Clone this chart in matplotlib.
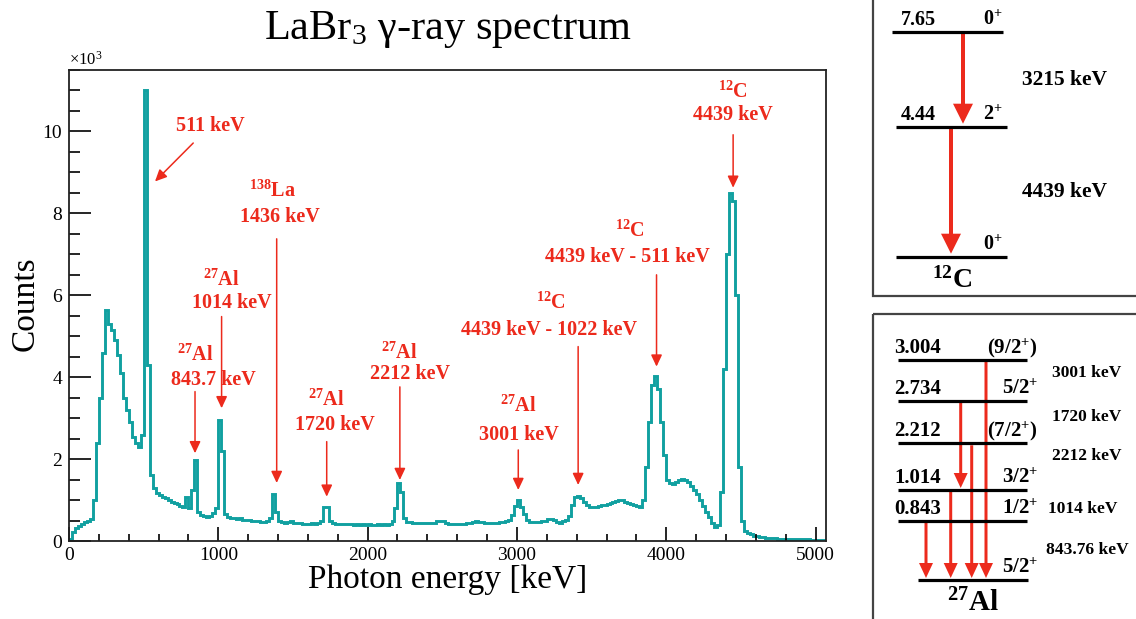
import numpy as np
import matplotlib
matplotlib.use("Agg")
import matplotlib.pyplot as plt
from matplotlib.patches import FancyArrow, Rectangle
from matplotlib.ticker import MultipleLocator, FuncFormatter

# LaBr3 spectrum, 20 keV bins starting at 0 keV
bin_width = 20
counts = [
    60, 220, 320, 370, 420, 460, 500, 540, 1000, 2400,           # 0
    3500, 4600, 5650, 5300, 5150, 4900, 4550, 4100, 3500, 3200,  # 200
    2900, 2550, 2400, 2300, 2600, 11000, 4300, 1600, 1300, 1180,  # 400
    1120, 1080, 1040, 1000, 960, 930, 900, 860, 830, 1080,       # 600
    800, 1250, 1980, 720, 640, 600, 590, 600, 680, 800,          # 800
    2960, 2200, 650, 580, 560, 560, 540, 550, 520, 510,          # 1000
    510, 500, 490, 480, 470, 470, 480, 560, 1150, 700,           # 1200
    480, 460, 450, 460, 500, 450, 430, 430, 420, 420,            # 1400
    420, 430, 420, 450, 500, 830, 830, 500, 430, 420,            # 1600
    410, 410, 420, 410, 410, 400, 410, 400, 410, 400,            # 1800
    410, 400, 400, 410, 400, 410, 400, 420, 480, 800,            # 2000
    1420, 1200, 550, 470, 460, 450, 440, 430, 430, 430,          # 2200
    440, 430, 440, 480, 500, 480, 440, 420, 420, 410,            # 2400
    410, 410, 420, 430, 440, 470, 490, 470, 460, 450,            # 2600
    450, 450, 450, 450, 460, 460, 480, 520, 640, 850,            # 2800
    1000, 820, 650, 520, 470, 460, 460, 470, 480, 500,           # 3000
    530, 540, 510, 470, 440, 480, 520, 620, 880, 1080,           # 3200
    1090, 1050, 960, 880, 840, 830, 840, 850, 870, 880,          # 3400
    910, 930, 950, 980, 1000, 990, 960, 930, 900, 880,           # 3600
    860, 820, 1000, 1800, 2900, 3800, 4030, 3700, 2900, 2100,    # 3800
    1480, 1420, 1400, 1450, 1500, 1520, 1500, 1450, 1350, 1250,  # 4000
    1150, 1000, 850, 720, 580, 450, 330, 400, 1200, 4200,        # 4200
    7000, 8500, 8300, 6000, 1800, 500, 250, 200, 160, 130,       # 4400
    110, 100, 90, 80, 75, 70, 65, 60, 58, 55,                    # 4600
    52, 50, 48, 46, 44, 42, 40, 38, 36, 34,                      # 4800
    32, 30, 28,                                                  # 5000
]

# peak labels: (isotope, line text)
peak_iso = [None, ("138", "La"), ("27", "Al"), ("27", "Al"), ("27", "Al"),
            ("27", "Al"), ("27", "Al"), ("12", "C"), ("12", "C"), ("12", "C")]
peak_text = ["511 keV", "1436 keV", "1014 keV", "843.7 keV", "1720 keV",
             "2212 keV", "3001 keV", "4439 keV - 1022 keV",
             "4439 keV - 511 keV", "4439 keV"]

# level schemes
c_levels = ["7.65", "4.44", ""]
c_spins = ["0", "2", "0"]
c_gammas = ["3215 keV", "4439 keV"]
al_levels = ["3.004", "2.734", "2.212", "1.014", "0.843", ""]
al_spins = ["(9/2", "5/2", "(7/2", "3/2", "1/2", "5/2"]
al_gammas = ["3001 keV", "1720 keV", "2212 keV", "1014 keV", "843.76 keV"]

RED = "#ec2a1c"
TEAL = "#11a0a0"
W, H = 1136, 619

plt.rcParams["font.family"] = "Liberation Serif"
plt.rcParams["mathtext.fontset"] = "custom"
plt.rcParams["mathtext.rm"] = "Liberation Serif"
plt.rcParams["mathtext.bf"] = "Liberation Serif:bold"
plt.rcParams["mathtext.it"] = "Liberation Serif:italic"


def iso(mass, sym):
    return r"$^{\mathbf{%s}}$%s" % (mass, sym)


def spin(s):
    if s.startswith("("):
        return s + r"$^{\mathbf{+}}$)"
    return s + r"$^{\mathbf{+}}$"


fig = plt.figure(figsize=(W / 100, H / 100), dpi=100)
ax = fig.add_axes([69 / W, 78 / H, 757 / W, 471 / H])

edges = np.arange(len(counts) + 1) * bin_width
ax.stairs(counts, edges, color=TEAL, linewidth=2.1)

ax.set_xlim(0, 5070)
ax.set_ylim(0, 11500)
ax.xaxis.set_major_locator(MultipleLocator(1000))
ax.xaxis.set_minor_locator(MultipleLocator(200))
ax.yaxis.set_major_locator(MultipleLocator(2000))
ax.yaxis.set_minor_locator(MultipleLocator(500))
ax.yaxis.set_major_formatter(FuncFormatter(lambda v, _: f"{v / 1000:g}"))
ax.tick_params(axis="x", which="major", direction="in", length=10, width=1.2,
               labelsize=14, pad=4)
ax.tick_params(axis="x", which="minor", direction="in", length=5, width=1.2)
ax.tick_params(axis="y", which="major", direction="in", length=16, width=1.2,
               labelsize=14, pad=5)
ax.tick_params(axis="y", which="minor", direction="in", length=8, width=1.2)
for sp in ax.spines.values():
    sp.set_linewidth(1.3)
    sp.set_color("#222222")

ax.text(0, 1.003, r"$\times$10$^{3}$", transform=ax.transAxes,
        fontsize=12, ha="left", va="bottom")

fig.text(448 / W, 1 - 30 / H, r"LaBr$_{3}$ γ-ray spectrum",
         ha="center", va="center", fontsize=30.5)
fig.text(448 / W, 1 - 580 / H, "Photon energy [keV]",
         ha="center", va="center", fontsize=24)
fig.text(25 / W, 1 - 304 / H, "Counts", rotation=90,
         ha="center", va="center", fontsize=24)

# label placement: iso line (x, y), energy line (x, y), arrow tail, arrow tip
label_pos = [
    (None, (944, 10122), (832, 9717), (576, 8779)),
    ((1366, 8534), (1413, 7923), (1391, 7378), (1391, 1417)),
    ((1018, 6377), (1091, 5807), (1022, 5480), (1022, 3242)),
    ((844, 4544), (964, 3934), (844, 3648), (844, 2143)),
    ((1726, 3445), (1781, 2834), (1726, 2426), (1726, 1082)),
    ((2210, 4593), (2283, 4080), (2216, 3763), (2216, 1490)),
    ((3011, 3281), (3013, 2590), (3009, 2223), (3009, 1246)),
    ((3228, 5807), (3214, 5155), (3410, 4747), (3410, 1368)),
    ((3757, 7574), (3740, 6946), (3935, 6499), (3935, 4258)),
    ((4446, 10946), (4443, 10408), (4448, 9919), (4448, 8625)),
]
for iso_lbl, txt, (ipos, tpos, tail, tip) in zip(peak_iso, peak_text, label_pos):
    if iso_lbl is not None:
        ax.text(*ipos, iso(*iso_lbl), color=RED, fontsize=14.5,
                fontweight="bold", ha="center", va="center")
    ax.text(*tpos, txt, color=RED, fontsize=14.5, fontweight="bold",
            ha="center", va="center")
    ax.annotate("", xy=tip, xytext=tail,
                arrowprops=dict(arrowstyle="-|>,head_length=0.7,head_width=0.33",
                                color=RED, lw=1.1, shrinkA=0, shrinkB=0,
                                mutation_scale=10))

# level schemes drawn in pixel units on an overlay
ov = fig.add_axes([0, 0, 1, 1])
ov.set_xlim(0, W)
ov.set_ylim(H, 0)
ov.axis("off")
ov.add_patch(Rectangle((873, -10), 300, 306, fill=False, lw=1.6, ec="#444444"))
ov.add_patch(Rectangle((873, 314), 300, 320, fill=False, lw=1.6, ec="#444444"))

# 12C
c_y = [31.7, 126.7, 256.7]
c_x = [(891.7, 1003.3), (896, 1006.7), (896, 1006.7)]
for lvl, sp, y, (x0, x1) in zip(c_levels, c_spins, c_y, c_x):
    ov.plot([x0, x1], [y, y], color="black", lw=2.3, solid_capstyle="butt")
    if lvl:
        ov.text(901, y - 7, lvl, fontsize=14.5, fontweight="bold",
                ha="left", va="baseline")
    ov.text(1003, y - 7, spin(sp), fontsize=14.5, fontweight="bold",
            ha="right", va="baseline")
for (top, bot, x) in [(0, 1, 963), (1, 2, 951)]:
    y0 = c_y[top] + 2
    y1 = c_y[bot] - 3
    ov.add_patch(FancyArrow(x, y0, 0, y1 - y0, width=4, head_width=20,
                            head_length=20, length_includes_head=True,
                            color=RED, lw=0))
for g, y in zip(c_gammas, [80, 192]):
    ov.text(1064, y, g, fontsize=15.5, fontweight="bold", ha="center", va="center")
ov.text(952, 280, iso("12", "C"), fontsize=20, fontweight="bold",
        ha="center", va="center")

# 27Al
al_y = [360, 400.7, 443.3, 490, 520.7, 580]
al_x = [(898, 1027)] * 5 + [(918, 1028)]
for lvl, sp, y, (x0, x1) in zip(al_levels, al_spins, al_y, al_x):
    ov.plot([x0, x1], [y, y], color="black", lw=2.3, solid_capstyle="butt")
    if lvl:
        ov.text(894, y - 7, lvl, fontsize=15, fontweight="bold",
                ha="left", va="baseline")
    ov.text(1038, y - 7, spin(sp), fontsize=15, fontweight="bold",
            ha="right", va="baseline")
for (top, bot, x) in [(4, 5, 926), (3, 5, 950.7), (2, 5, 971.7),
                      (0, 5, 986), (1, 3, 960.7)]:
    y0 = al_y[top] + 2
    y1 = al_y[bot] - 2
    ov.add_patch(FancyArrow(x, y0, 0, y1 - y0, width=3, head_width=14,
                            head_length=15, length_includes_head=True,
                            color=RED, lw=0))
for g, (x, y) in zip(al_gammas, [(1087, 373), (1087, 417), (1087, 456),
                                 (1083, 509), (1087, 550)]):
    ov.text(x, y, g, fontsize=12.5, fontweight="bold", ha="center", va="center")
ov.text(973, 603, iso("27", "Al"), fontsize=21, fontweight="bold",
        ha="center", va="center")

fig.savefig("out.png", dpi=100)
